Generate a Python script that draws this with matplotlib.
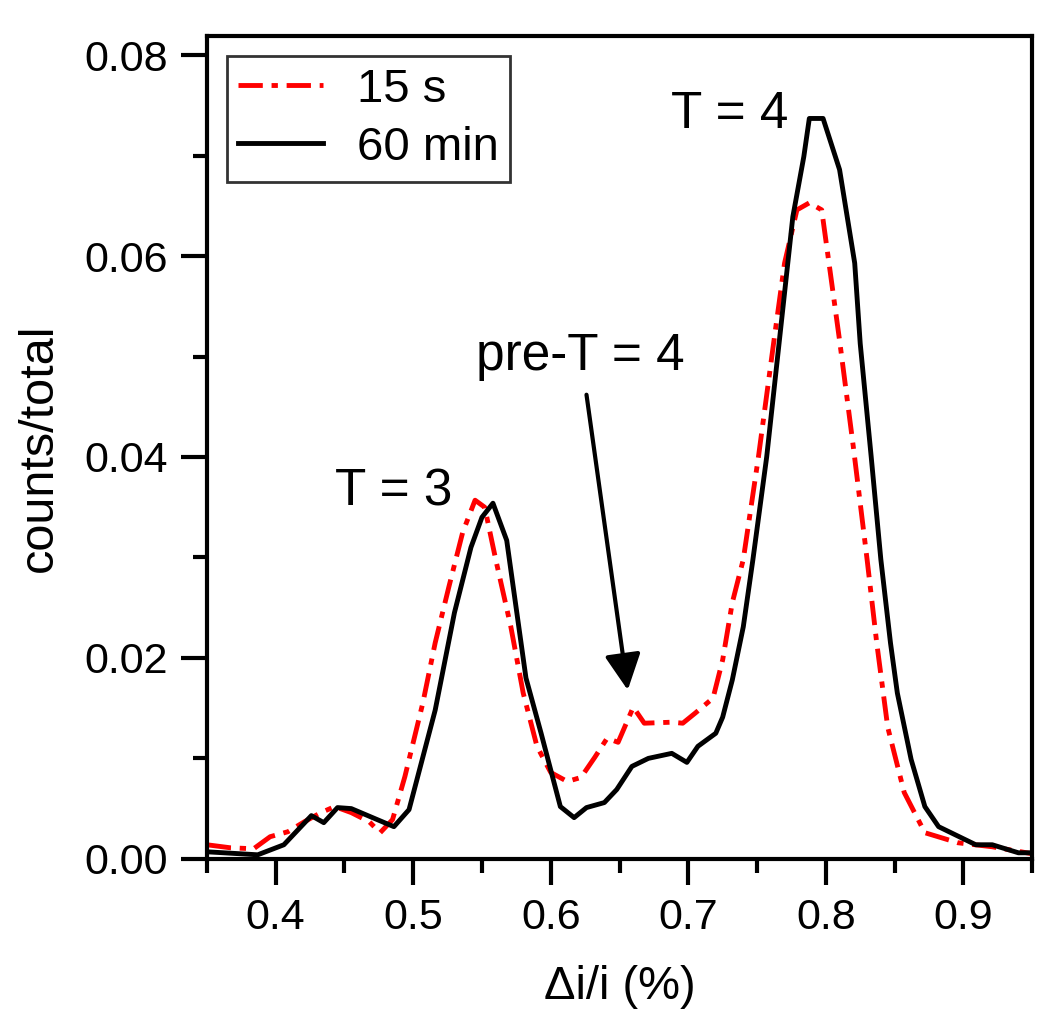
import numpy as np
import matplotlib.pyplot as plt
from matplotlib.ticker import MultipleLocator

plt.rcParams['font.family'] = ['Liberation Sans', 'DejaVu Sans']

# 15 s series (red dash-dot)
x_15s = [0.350, 0.367, 0.384, 0.396, 0.409, 0.421, 0.433, 0.443, 0.455, 0.468,
         0.476, 0.485, 0.494, 0.507, 0.516, 0.526, 0.536, 0.545, 0.552, 0.560,
         0.571, 0.580, 0.590, 0.600, 0.612, 0.622, 0.632, 0.641, 0.649, 0.660,
         0.668, 0.688, 0.696, 0.705, 0.718, 0.725, 0.732, 0.740, 0.751, 0.762,
         0.770, 0.779, 0.788, 0.797, 0.803, 0.810, 0.820, 0.830, 0.837, 0.845,
         0.857, 0.872, 0.896, 0.921, 0.946, 0.950]
y_15s = [0.0014, 0.0011, 0.0010, 0.0022, 0.0027, 0.0037, 0.0046, 0.0052, 0.0046, 0.0037,
         0.0026, 0.0039, 0.0082, 0.0155, 0.0215, 0.0271, 0.0325, 0.0357, 0.0350, 0.0298,
         0.0231, 0.0165, 0.0112, 0.0086, 0.0077, 0.0081, 0.0101, 0.0120, 0.0116, 0.0151,
         0.0135, 0.0136, 0.0135, 0.0145, 0.0160, 0.0198, 0.0255, 0.0298, 0.0400, 0.0513,
         0.0593, 0.0646, 0.0653, 0.0646, 0.0586, 0.0516, 0.0410, 0.0298, 0.0215, 0.0131,
         0.0066, 0.0026, 0.0016, 0.0012, 0.0006, 0.0005]

# 60 min series (black solid)
x_60m = [0.350, 0.387, 0.406, 0.426, 0.435, 0.445, 0.455, 0.486, 0.497, 0.516,
         0.530, 0.542, 0.550, 0.558, 0.568, 0.582, 0.593, 0.607, 0.617, 0.626,
         0.639, 0.648, 0.659, 0.671, 0.688, 0.699, 0.707, 0.720, 0.725, 0.732,
         0.740, 0.747, 0.757, 0.766, 0.776, 0.784, 0.788, 0.798, 0.810, 0.821,
         0.825, 0.833, 0.840, 0.847, 0.852, 0.862, 0.872, 0.882, 0.909, 0.921,
         0.940, 0.950]
y_60m = [0.0007, 0.0004, 0.0014, 0.0043, 0.0036, 0.0051, 0.0050, 0.0032, 0.0049, 0.0148,
         0.0245, 0.0310, 0.0340, 0.0354, 0.0317, 0.0180, 0.0125, 0.0052, 0.0041, 0.0051,
         0.0056, 0.0069, 0.0092, 0.0100, 0.0105, 0.0096, 0.0112, 0.0125, 0.0141, 0.0178,
         0.0231, 0.0298, 0.0400, 0.0513, 0.0639, 0.0699, 0.0737, 0.0737, 0.0686, 0.0593,
         0.0513, 0.0400, 0.0298, 0.0215, 0.0165, 0.0099, 0.0052, 0.0032, 0.0014, 0.0014,
         0.0006, 0.0006]

fig = plt.figure(figsize=(10.5, 10.31), dpi=100)
ax = fig.add_axes([0.197, 0.167, 0.786, 0.798])

ax.plot(x_15s, y_15s, color='#ff0000', lw=3.5, linestyle=(0, (5, 1.8, 1.3, 1.8)), label='15 s')
ax.plot(x_60m, y_60m, color='black', lw=3.5, label='60 min')

ax.set_xlim(0.35, 0.95)
ax.set_ylim(0, 0.0819)
ax.xaxis.set_minor_locator(MultipleLocator(0.05))
ax.yaxis.set_minor_locator(MultipleLocator(0.01))
ax.set_xticks([0.4, 0.5, 0.6, 0.7, 0.8, 0.9])
ax.set_xticklabels(['0.4', '0.5', '0.6', '0.7', '0.8', '0.9'])
ax.set_yticks([0.0, 0.02, 0.04, 0.06, 0.08])
ax.set_yticklabels(['0.00', '0.02', '0.04', '0.06', '0.08'])

ax.tick_params(which='major', direction='out', length=19, width=3, labelsize=31, pad=9)
ax.tick_params(which='minor', direction='out', length=10, width=3)
for s in ax.spines.values():
    s.set_linewidth(3)

ax.set_xlabel('\u0394i/i (%)', fontsize=34, labelpad=20)
ax.set_ylabel('counts/total', fontsize=35, labelpad=16)

ax.text(0.5287, 0.0352, 'T = 3', fontsize=37, ha='right', va='baseline')
ax.text(0.7728, 0.0728, 'T = 4', fontsize=37, ha='right', va='baseline')
ax.text(0.5456, 0.0487, 'pre-T = 4', fontsize=37, ha='left', va='baseline')
ax.annotate('', xy=(0.656, 0.0168), xytext=(0.626, 0.0462),
            arrowprops=dict(arrowstyle='-|>,head_length=2.2,head_width=1.1',
                            color='black', lw=3, shrinkA=0, shrinkB=0))

leg = ax.legend(loc='upper left', fontsize=34, frameon=True, fancybox=False,
                edgecolor='black', handlelength=1.8, borderaxespad=0.42,
                handletextpad=0.7, borderpad=0.25, labelspacing=0.3)
leg.get_frame().set_linewidth(2)

fig.savefig('out.png', dpi=100)
